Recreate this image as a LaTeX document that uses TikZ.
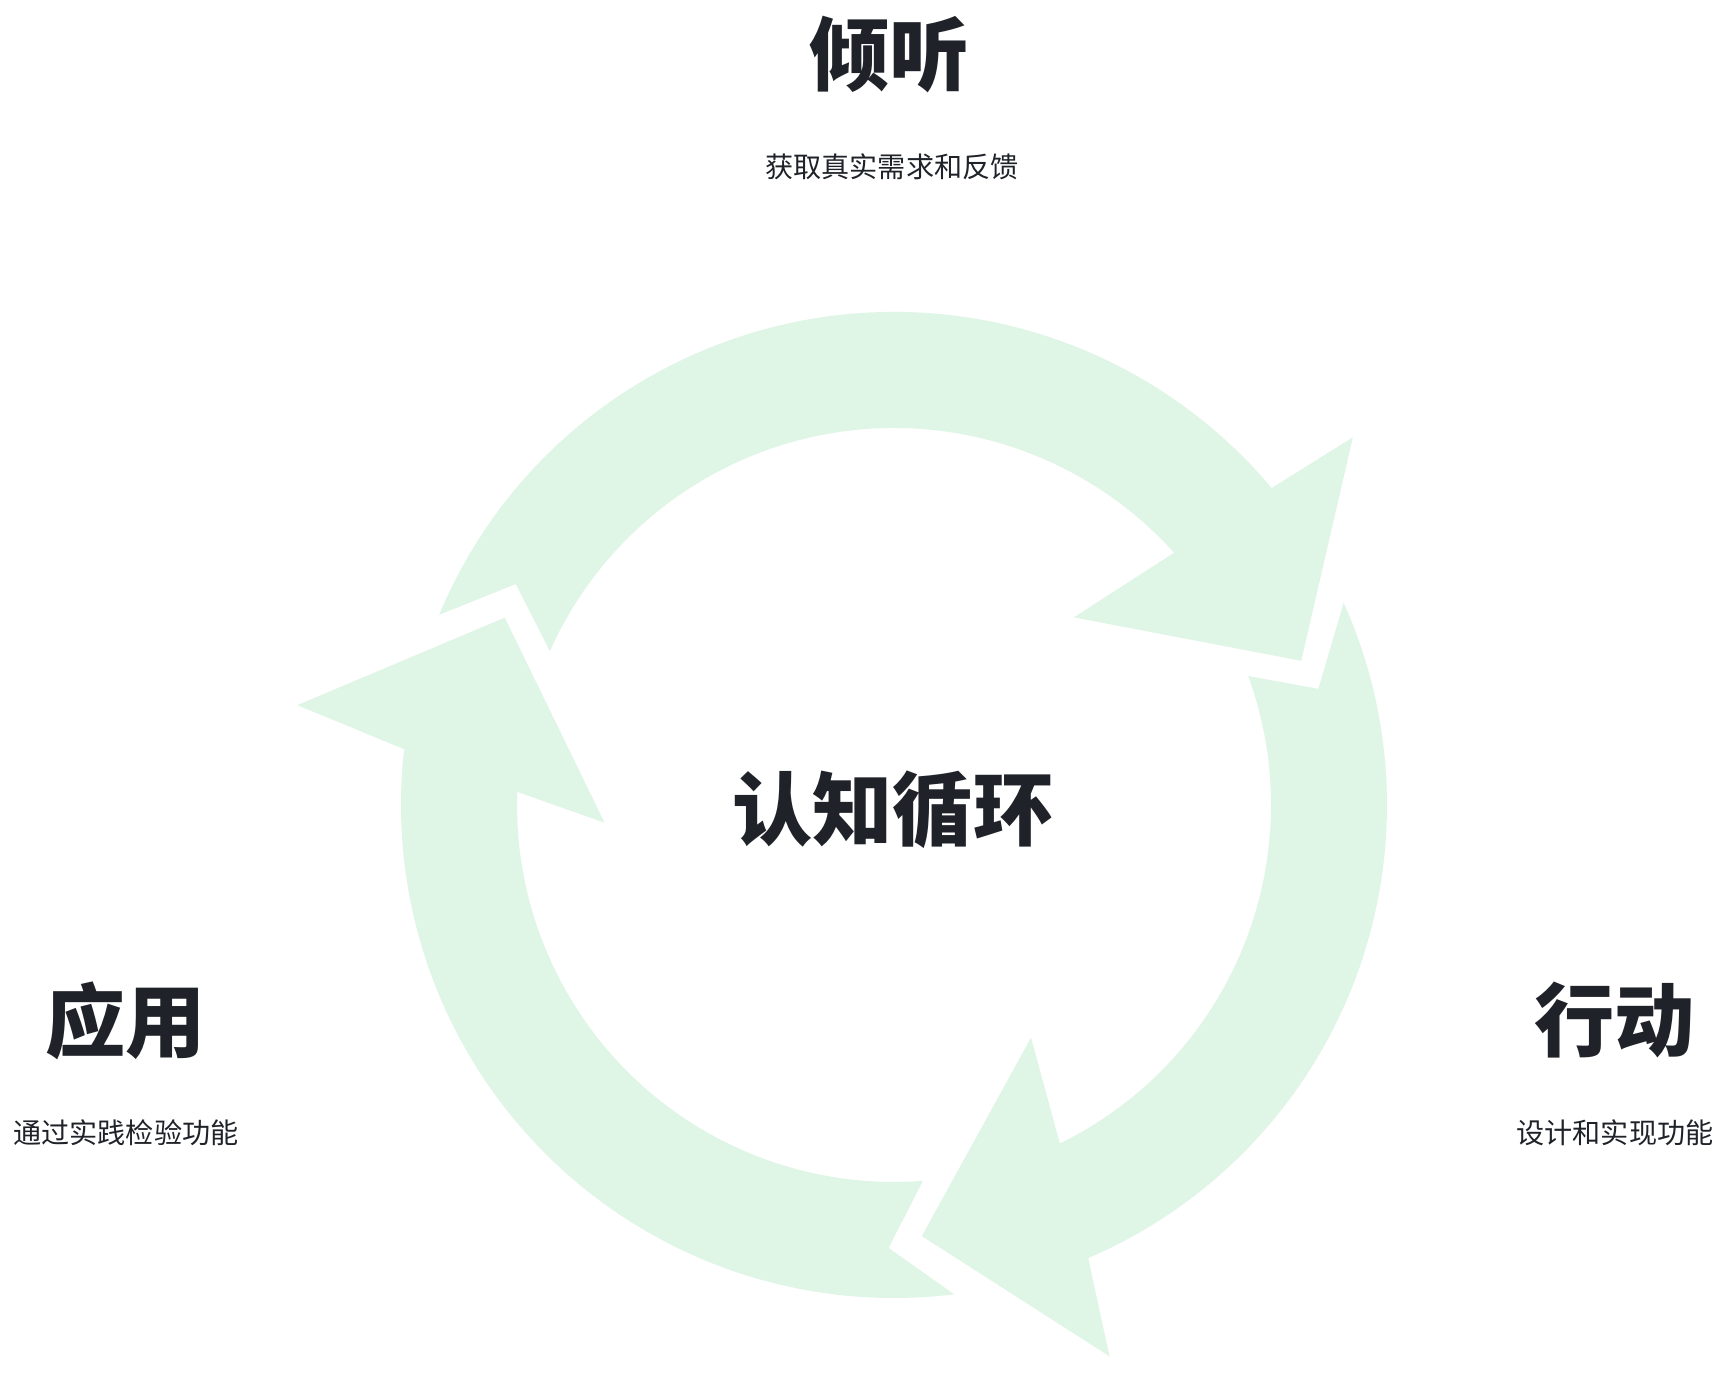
\documentclass[tikz,border=0pt]{standalone}
\usepackage{fontspec}
\usepackage{tikz}
\newfontfamily\cjk{Noto Sans CJK SC}
\definecolor{ringgreen}{HTML}{DFF5E6}
\definecolor{inkdark}{HTML}{1F2329}
\tikzset{
  /tikz/.cd,
  arrowfill/.style={fill=ringgreen},
  stage/.style={text=inkdark,font=\cjk\bfseries\fontsize{22.8pt}{26pt}\selectfont,inner sep=0pt}
}

\begin{document}
\begin{tikzpicture}[x=0.01cm,y=0.01cm,
                    caption/.style={text=inkdark,font=\cjk\fontsize{8pt}{10pt}\selectfont,inner sep=0pt}]
  \fill[white] (-894,-571) rectangle (832,805);
  \useasboundingbox (-894,-571) rectangle (832,805);

  % listen -> act
  \fill[arrowfill] (157.3:493) arc[start angle=157.3, end angle=40, radius=493]
    -- (38.7:588) -- (19.5:432) -- (46.2:260) -- (42:377)
    arc[start angle=42, end angle=155.9, radius=377] -- (149.7:438) -- cycle;
  % act -> apply
  \fill[arrowfill] (24.2:493) arc[start angle=24.2, end angle=-66.8, radius=493]
    -- (-68.65:592) -- (-86.3:432) -- (-59.5:270) -- (-63.9:377)
    arc[start angle=-63.9, end angle=20, radius=377] -- (15.3:440) -- cycle;
  % apply -> listen
  \fill[arrowfill] (277:493) arc[start angle=277, end angle=173.5, radius=493]
    -- (170.5:605) -- (154.3:432) -- (183.5:290) -- (178:377)
    arc[start angle=178, end angle=274.4, radius=377] -- (269.3:443) -- cycle;

  \node[stage] (core) at (-1,-5) {认知循环};

  \node[stage] (listen) at (-4,750) {倾听};
  \node[caption] (listensub) at (-2,638) {获取真实需求和反馈};

  \node[stage] (act) at (721,-215) {行动};
  \node[caption] (actsub) at (721,-328) {设计和实现功能};

  \node[stage] (apply) at (-768,-216) {应用};
  \node[caption] (applysub) at (-768,-328) {通过实践检验功能};
\end{tikzpicture}
\end{document}
